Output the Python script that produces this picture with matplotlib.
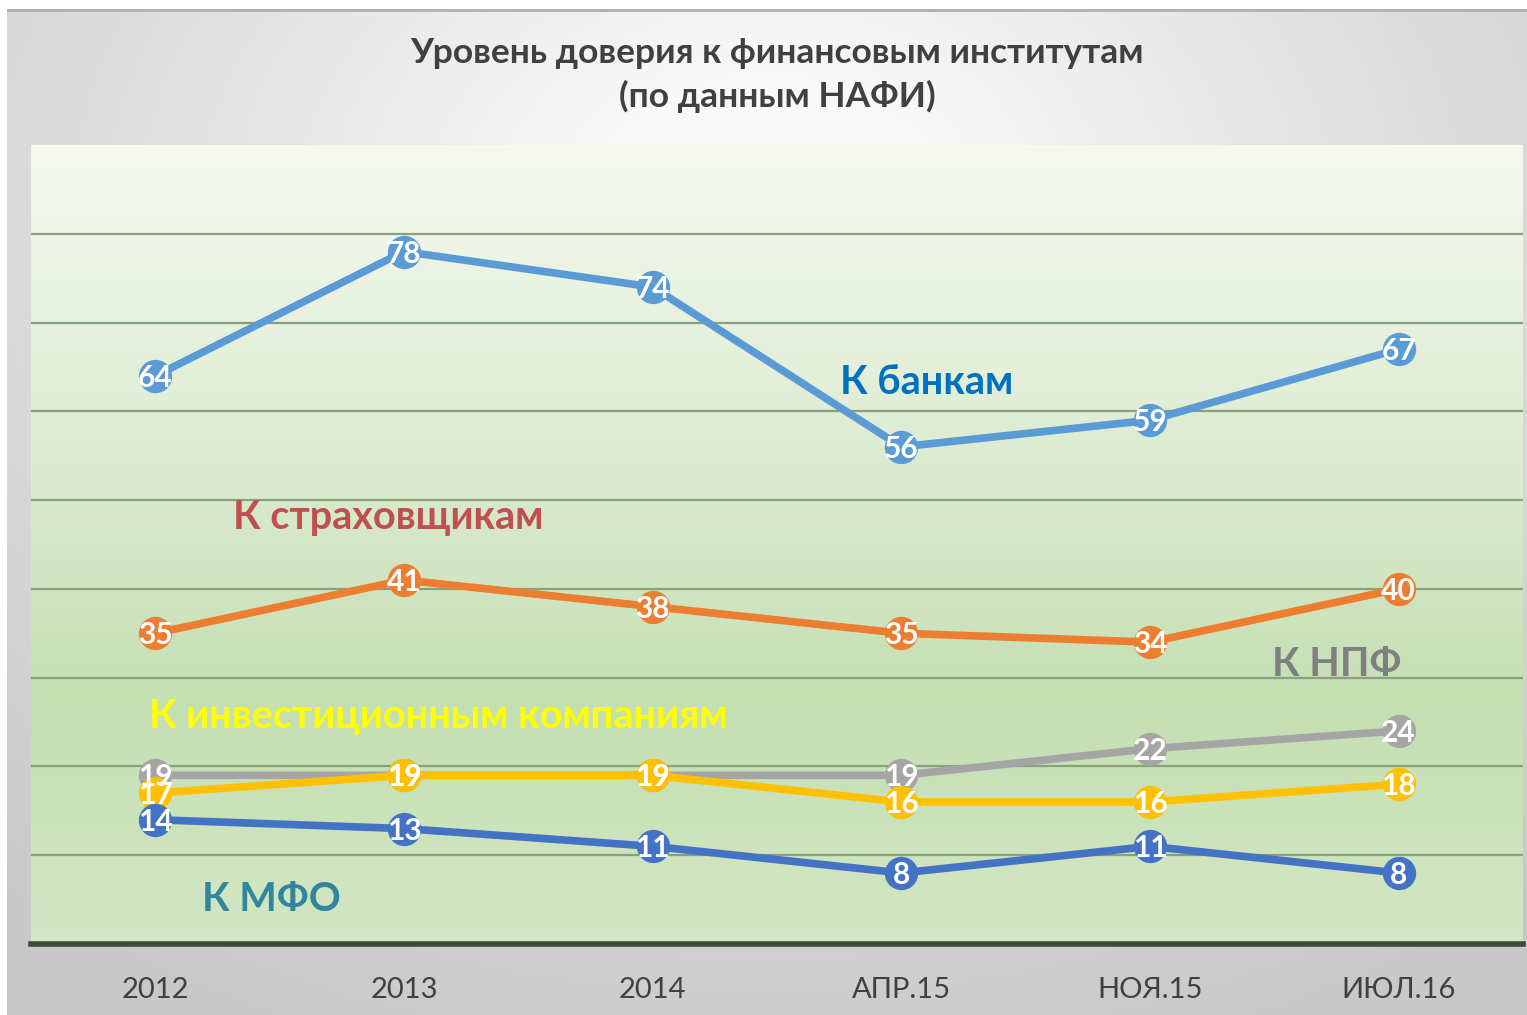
import numpy as np
import matplotlib
matplotlib.use("Agg")
import matplotlib.pyplot as plt
from matplotlib.colors import LinearSegmentedColormap

categories = ["2012", "2013", "2014", "АПР.15", "НОЯ.15", "ИЮЛ.16"]
banks = [64, 78, 74, 56, 59, 67]
insurers = [35, 41, 38, 35, 34, 40]
npf = [19, 19, 19, 19, 22, 24]
invest = [17, 19, 19, 16, 16, 18]
mfo = [14, 13, 11, 8, 11, 8]

title = "Уровень доверия к финансовым институтам\n(по данным НАФИ)"

FONT = ["Lato", "DejaVu Sans"]
plt.rcParams["font.family"] = FONT

W, H = 1527, 1015
fig = plt.figure(figsize=(W / 100, H / 100), dpi=100)
fig.patch.set_facecolor("white")

# outer gray frame with radial-ish gradient
bg = fig.add_axes([7 / W, 0, 1 - 7 / W, 1 - 9 / H], zorder=0)
bg.set_axis_off()
yy, xx = np.mgrid[0:1:200j, 0:1:300j]
d = np.sqrt(((xx - 0.5) / 0.8) ** 2 + ((yy - 0.8) / 0.9) ** 2)
val = np.clip(1 - d, 0, 1)
cmap_bg = LinearSegmentedColormap.from_list("bg", ["#c8c8c8", "#dcdcdc", "#f8f8f8"])
bg.imshow(val, cmap=cmap_bg, origin="lower", aspect="auto", extent=[0, 1, 0, 1], vmin=0, vmax=0.85)
bg.set_xlim(0, 1)
bg.set_ylim(0, 1)
bg.plot([0, 1], [0.999, 0.999], color="#b0b0b0", lw=2)

ax = fig.add_axes([31 / W, (H - 944) / H, (1523 - 31) / W, (944 - 145) / H], zorder=1)
x = np.arange(len(categories))
ax.set_xlim(-0.5, len(categories) - 0.5)
ax.set_ylim(0, 90)

grad = np.linspace(0, 1, 256).reshape(-1, 1)
cmap_pa = LinearSegmentedColormap.from_list(
    "pa", [(0, "#d2e7c4"), (0.3, "#c4dfb2"), (0.6, "#dcebd0"), (1.0, "#f6f9f0")])
ax.imshow(grad, cmap=cmap_pa, origin="lower", aspect="auto",
          extent=[-0.5, len(categories) - 0.5, 0, 90], zorder=0)

for g in range(10, 90, 10):
    ax.axhline(g, color="#87a27a", lw=1.6, zorder=1)

for s in ["top", "right", "left"]:
    ax.spines[s].set_visible(False)
ax.spines["bottom"].set_color("#3f4a3a")
ax.spines["bottom"].set_linewidth(4)
ax.spines["bottom"].set_zorder(5)

series = [
    (npf, "#a5a5a5"),
    (invest, "#ffc000"),
    (mfo, "#4472c4"),
    (insurers, "#ed7d31"),
    (banks, "#5b9bd5"),
]
for z, (vals, col) in enumerate(series):
    ax.plot(x, vals, color=col, lw=5.5, marker="o", markersize=24,
            markeredgewidth=0, solid_capstyle="round", zorder=3 + z)
    for xi, v in zip(x, vals):
        ax.annotate(str(v), (xi, v), xytext=(0, -1.5), textcoords="offset points",
                    color="white", fontsize=21.5, fontweight="bold",
                    ha="center", va="center", zorder=10 + z)

ax.set_yticks([])
ax.set_xticks(x)
ax.set_xticklabels(categories, fontsize=21, color="#404040")
ax.tick_params(axis="x", length=0, pad=24)

ax.text(3.10, 63.3, "К банкам", color="#0070c0", fontsize=28.5, fontweight="bold",
        ha="center", va="center", zorder=20)
ax.text(0.936, 48.0, "К страховщикам", color="#c0504d", fontsize=28.5, fontweight="bold",
        ha="center", va="center", zorder=20)
ax.text(4.75, 31.5, "К НПФ", color="#7f7f7f", fontsize=28.5, fontweight="bold",
        ha="center", va="center", zorder=20)
ax.text(1.137, 25.6, "К инвестиционным компаниям", color="#ffff00", fontsize=28.5,
        fontweight="bold", ha="center", va="center", zorder=20)
ax.text(0.466, 5.0, "К МФО", color="#31859c", fontsize=28.5, fontweight="bold",
        ha="center", va="center", zorder=20)

fig.text(777 / W, 1 - 75 / H, title, ha="center", va="center", fontsize=25.5,
         fontweight="bold", color="#404040", linespacing=1.4)

fig.savefig("out.png", dpi=100)
